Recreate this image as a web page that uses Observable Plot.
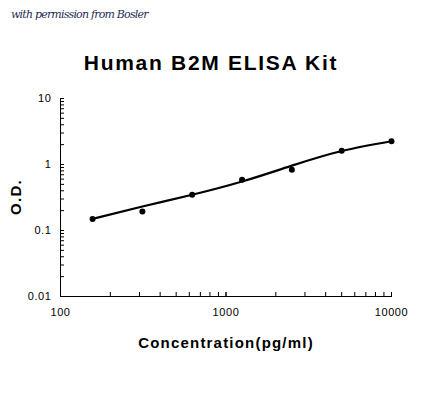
<!DOCTYPE html>
<html><head><meta charset="utf-8">
<script src="https://cdn.jsdelivr.net/npm/d3@7"></script>
<script src="https://cdn.jsdelivr.net/npm/@observablehq/plot@0.6"></script>
<style>
body{margin:0;background:#fff;}
#wrap{position:relative;width:435px;height:397px;font-family:"Liberation Sans",Arial,sans-serif;}
#credit{position:absolute;left:11px;top:8px;font-family:"DejaVu Serif",serif;font-style:italic;font-size:11px;color:#1f2d55;letter-spacing:-0.8px;}
#title{position:absolute;left:0;width:422px;top:51px;text-align:center;font-weight:bold;font-size:21px;letter-spacing:1.7px;}
#ylab{position:absolute;left:0px;top:197px;width:40px;margin-top:-9px;transform:rotate(-90deg);transform-origin:center;font-weight:bold;font-size:15px;letter-spacing:1.3px;text-align:center;line-height:18px;margin-left:-4px;}
#xlab{position:absolute;left:0;width:452px;top:334px;text-align:center;font-weight:bold;font-size:15px;letter-spacing:1.2px;}
svg{position:absolute;left:0;top:0;}
</style></head>
<body><div id="wrap">
<div id="credit">with permission from Bosler</div>
<div id="title">Human B2M ELISA Kit</div>
<div id="ylab">O.D.</div>
<div id="xlab">Concentration(pg/ml)</div>
</div>
<script>
const concentration = [156.25, 312.5, 625, 1250, 2500, 5000, 10000];
const od = [0.150, 0.194, 0.348, 0.586, 0.83, 1.61, 2.25];
const fitOd = [0.150, 0.231, 0.348, 0.552, 0.96, 1.60, 2.25];
const xMajor = [100, 1000, 10000];
const yMajor = [0.01, 0.1, 1, 10];

const pts = concentration.map((c, i) => ({c, od: od[i]}));
const fit = concentration.map((c, i) => ({c, od: fitOd[i]}));
const minor = (lo, hi) => { const a = []; for (let d = lo; d < hi; d *= 10) for (let k = 1; k <= 10; k++) a.push(d * k); return a; };

const chart = Plot.plot({
  width: 435, height: 397,
  marginLeft: 60, marginRight: 44, marginTop: 98, marginBottom: 101,
  style: {fontFamily: "Liberation Sans, Arial, sans-serif", fontSize: "11px", color: "#000", background: "transparent", letterSpacing: "0.6px"},
  x: {type: "log", domain: [100, 10000]},
  y: {type: "log", domain: [0.01, 10]},
  marks: [
    Plot.axisX({ticks: minor(100, 10000), tickSize: -4, tickFormat: () => "", label: null}),
    Plot.axisX({ticks: xMajor, tickSize: 0, tickPadding: 12, tickFormat: d => String(d), label: null}),
    Plot.axisY({ticks: minor(0.01, 10), tickSize: -4, tickFormat: () => "", label: null}),
    Plot.axisY({ticks: yMajor, tickSize: 0, tickPadding: 9, tickFormat: d => String(d), label: null}),
    Plot.frame({anchor: "left", stroke: "#000"}),
    Plot.frame({anchor: "bottom", stroke: "#000"}),
    Plot.line(fit, {x: "c", y: "od", curve: "natural", stroke: "#000", strokeWidth: 2.2}),
    Plot.dot(pts, {x: "c", y: "od", r: 3, fill: "#000", stroke: null})
  ]
});
document.getElementById("wrap").appendChild(chart);
</script>
</body></html>
